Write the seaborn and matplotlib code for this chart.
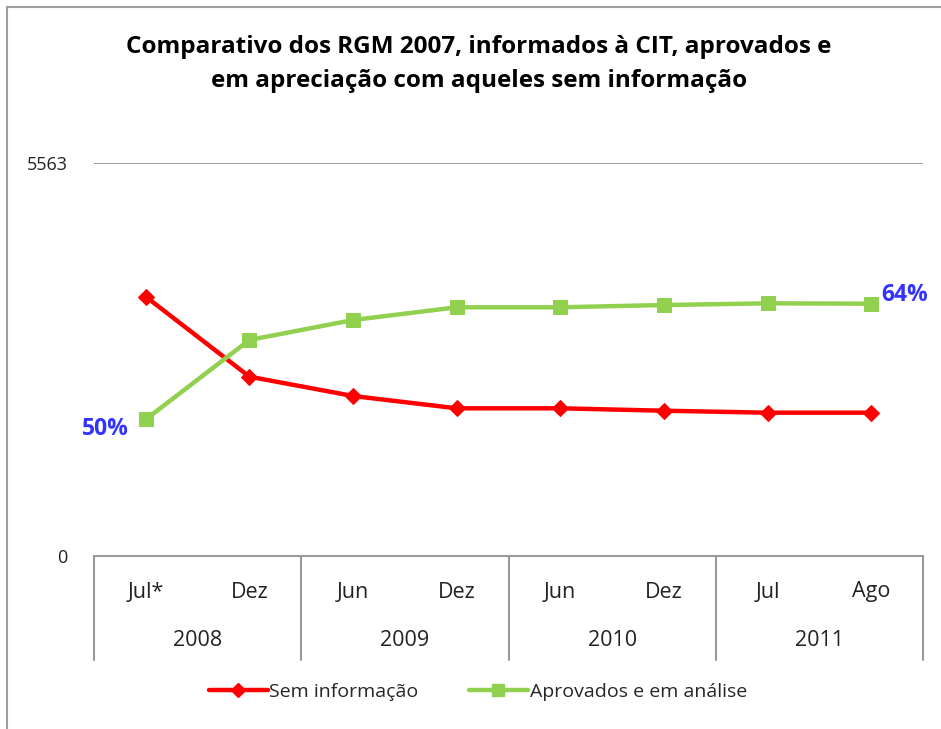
import matplotlib
matplotlib.use("Agg")
import matplotlib.pyplot as plt
from matplotlib.lines import Line2D
from matplotlib.patches import Rectangle
import seaborn as sns
import pandas as pd

# data
meses = ["Jul*", "Dez", "Jun", "Dez", "Jun", "Dez", "Jul", "Ago"]
anos = ["2008", "2009", "2010", "2011"]
sem_info = [3666, 2535, 2262, 2088, 2088, 2054, 2026, 2026]
aprovados = [1932, 3054, 3336, 3516, 3516, 3548, 3572, 3567]
y_max = 5563
rotulo_ini = "50%"
rotulo_fim = "64%"

sns.set_style("white")
plt.rcParams["font.family"] = ["Open Sans", "DejaVu Sans"]

df = pd.DataFrame({"pos": range(len(meses)), "sem": sem_info, "apr": aprovados})

fig = plt.figure(figsize=(9.41, 7.29), dpi=100)
ax = fig.add_axes([94 / 941, 1 - 556 / 729, (923 - 94) / 941, (556 - 162.5) / 729])

red = "#FF0000"
green = "#92D050"
sns.lineplot(data=df, x="pos", y="sem", ax=ax, color=red, lw=3.2,
             marker="D", markersize=8, markeredgecolor=red, clip_on=False)
sns.lineplot(data=df, x="pos", y="apr", ax=ax, color=green, lw=3.2,
             marker="s", markersize=10, markeredgecolor=green, clip_on=False)

ax.set_xlim(-0.5, len(meses) - 0.5)
ax.set_ylim(0, y_max)
ax.set_yticks([0, y_max])
ax.set_yticklabels(["0", str(y_max)], fontsize=13, color="#222222")
ax.tick_params(axis="y", length=0, pad=19)
ax.axhline(y_max, color="#8c8c8c", lw=1.2)
ax.set_xticks([])
ax.set_xlabel("")
ax.set_ylabel("")
for s in ["top", "right", "left"]:
    ax.spines[s].set_visible(False)
ax.spines["bottom"].set_color("#9a9a9a")
ax.spines["bottom"].set_linewidth(1.5)

# category table under the axis
trans = ax.get_xaxis_transform()
h = 556 - 162.5
for i in range(len(anos) + 1):
    xb = -0.5 + 2 * i
    ax.plot([xb, xb], [0, -(660 - 556) / h], transform=trans, color="#9a9a9a", lw=1.5, clip_on=False)
for i, m in enumerate(meses):
    ax.text(i, -(592 - 556) / h, m, transform=trans, ha="center", va="center",
            fontsize=15.5, color="#222222")
for j, a in enumerate(anos):
    ax.text(2 * j + 0.5, -(641 - 556) / h, a, transform=trans, ha="center",
            va="center", fontsize=15.5, color="#222222")

# percentage labels
ax.annotate(rotulo_ini, (0, aprovados[0]), xytext=(-12, -7), textcoords="offset points",
            ha="right", va="center", fontsize=16.5, fontweight="bold", color="#3333FF")
ax.annotate(rotulo_fim, (len(meses) - 1, aprovados[-1]), xytext=(7, 6), textcoords="offset points",
            ha="left", va="center", fontsize=16.5, fontweight="bold", color="#3333FF")

fig.text(479 / 941, 1 - 64 / 729,
         "Comparativo dos RGM 2007, informados à CIT, aprovados e\nem apreciação com aqueles sem informação",
         ha="center", va="center", fontsize=17.5, fontweight="bold", linespacing=1.6, color="black")

handles = [
    Line2D([], [], color=red, lw=3.2, marker="D", markersize=7, label="Sem informação"),
    Line2D([], [], color=green, lw=3.2, marker="s", markersize=8, label="Aprovados e em análise"),
]
fig.legend(handles=handles, loc="center", bbox_to_anchor=(478 / 941, 1 - 692 / 729), ncol=2,
           frameon=False, fontsize=14, handlelength=3.0, handletextpad=0.1, columnspacing=2.6)

fig.add_artist(Rectangle((7 / 941, -0.05), 1.2, 1 - 7 / 729 + 0.05, transform=fig.transFigure,
                         fill=False, edgecolor="#a0a0a0", lw=1.5))

fig.savefig("out.png", dpi=100)
